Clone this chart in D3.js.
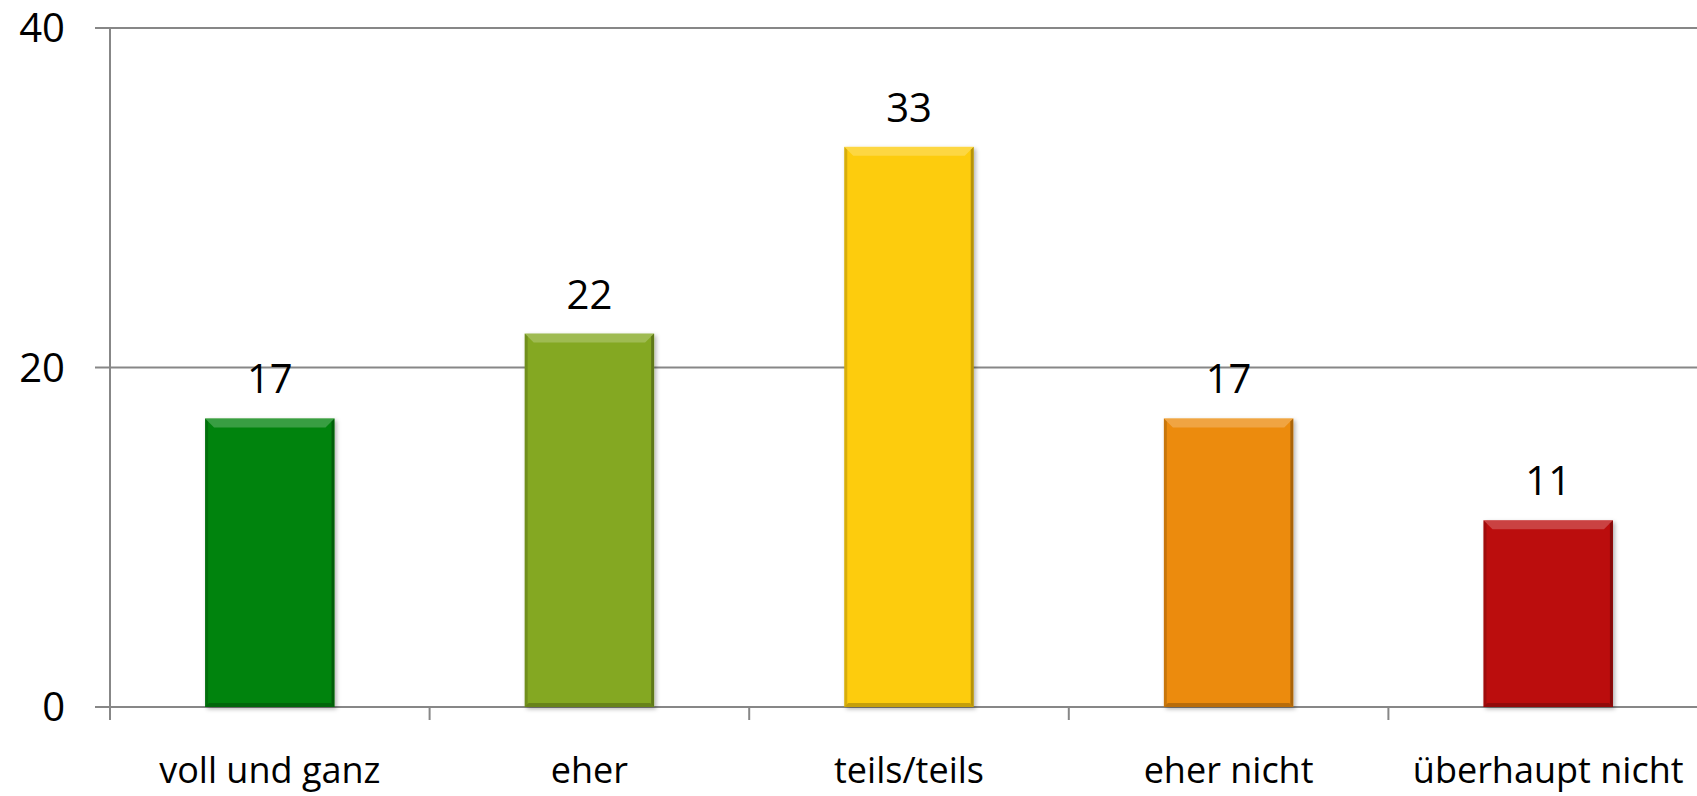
<!DOCTYPE html>
<html>
<head>
<meta charset="utf-8">
<script src="https://cdn.jsdelivr.net/npm/d3@7"></script>
<style>
  body { margin: 0; background: #fff; }
  svg { display: block; font-family: "Open Sans", sans-serif; }
</style>
</head>
<body>
<script>
// data
var categories = ["voll und ganz", "eher", "teils/teils", "eher nicht", "überhaupt nicht"];
var values = [17, 22, 33, 17, 11];
var barColors = ["#06830a", "#84a822", "#fdcc08", "#ec8b07", "#bb0707"];
var yTicks = [0, 20, 40];

var W = 1697, H = 796;
var margin = { top: 28, right: -11, bottom: 89, left: 110 };
var w = W - margin.left - margin.right;
var h = H - margin.top - margin.bottom;

var svg = d3.select("body")
    .append("svg")
    .attr("width", W)
    .attr("height", H);

var defs = svg.append("defs");
var f = defs.append("filter").attr("id", "shadow")
    .attr("x", "-10%").attr("y", "-10%").attr("width", "130%").attr("height", "130%");
f.append("feDropShadow").attr("dx", 2).attr("dy", 2).attr("stdDeviation", 2)
    .attr("flood-color", "#000").attr("flood-opacity", 0.3);

var g = svg.append("g")
    .attr("transform", "translate(" + margin.left + "," + margin.top + ")");

var x = d3.scaleBand().domain(categories).range([0, w]).padding(0);
var y = d3.scaleLinear().domain([0, 40]).range([h, 0]);

// gridlines + y labels
g.selectAll("line.grid")
    .data(yTicks)
    .enter()
    .append("line")
    .attr("class", "grid")
    .attr("x1", -15)
    .attr("x2", w)
    .attr("y1", function (d) { return y(d) })
    .attr("y2", function (d) { return y(d) })
    .attr("stroke", "#878787")
    .attr("stroke-width", 2);

g.selectAll("text.ylab")
    .data(yTicks)
    .enter()
    .append("text")
    .attr("class", "ylab")
    .attr("x", -45)
    .attr("y", function (d) { return y(d) })
    .attr("dy", "0.36em")
    .attr("text-anchor", "end")
    .attr("font-size", "40px")
    .attr("fill", "#000")
    .text(function (d) { return d });

// y axis line
g.append("line")
    .attr("x1", 0).attr("x2", 0)
    .attr("y1", 0).attr("y2", h + 13)
    .attr("stroke", "#878787")
    .attr("stroke-width", 2);

// x ticks at category boundaries
g.selectAll("line.xtick")
    .data(categories.slice(1))
    .enter()
    .append("line")
    .attr("class", "xtick")
    .attr("x1", function (d) { return x(d) })
    .attr("x2", function (d) { return x(d) })
    .attr("y1", h)
    .attr("y2", h + 13)
    .attr("stroke", "#878787")
    .attr("stroke-width", 2);

// bars with bevel
var bw = x.bandwidth() * 0.405;
var bev = 9;

var bars = g.selectAll("g.bar")
    .data(values)
    .enter()
    .append("g")
    .attr("class", "bar");

bars.append("rect")
    .attr("x", function (d, i) { return x(categories[i]) + (x.bandwidth() - bw) / 2 })
    .attr("y", function (d) { return y(d) })
    .attr("width", bw)
    .attr("height", function (d) { return h - y(d) })
    .attr("fill", function (d, i) { return barColors[i] })
    .attr("filter", "url(#shadow)");

function bevelPath(d, i, side) {
    var x0 = x(categories[i]) + (x.bandwidth() - bw) / 2, x1 = x0 + bw;
    var y0 = y(d), y1 = h;
    if (side == "top") return [[x0, y0], [x1, y0], [x1 - bev, y0 + bev], [x0 + bev, y0 + bev]];
    if (side == "left") return [[x0, y0], [x0 + 3, y0 + 3], [x0 + 3, y1 - 3], [x0, y1]];
    if (side == "right") return [[x1, y0], [x1 - 3, y0 + 3], [x1 - 3, y1 - 3], [x1, y1]];
    return [[x0, y1], [x1, y1], [x1 - 4, y1 - 4], [x0 + 4, y1 - 4]];
}

var sides = [
    { s: "top", c: "#fff", o: 0.22 },
    { s: "left", c: "#000", o: 0.15 },
    { s: "right", c: "#000", o: 0.28 },
    { s: "bottom", c: "#000", o: 0.22 }
];
sides.forEach(function (sd) {
    bars.append("polygon")
        .attr("points", function (d, i) { return bevelPath(d, i, sd.s).join(" ") })
        .attr("fill", sd.c)
        .attr("fill-opacity", sd.o);
});

// value labels
g.selectAll("text.val")
    .data(values)
    .enter()
    .append("text")
    .attr("class", "val")
    .attr("x", function (d, i) { return x(categories[i]) + x.bandwidth() / 2 })
    .attr("y", function (d) { return y(d) - 25 })
    .attr("text-anchor", "middle")
    .attr("font-size", "40px")
    .attr("fill", "#000")
    .text(function (d) { return d });

// category labels
g.selectAll("text.cat")
    .data(categories)
    .enter()
    .append("text")
    .attr("class", "cat")
    .attr("x", function (d) { return x(d) + x.bandwidth() / 2 })
    .attr("y", h + 76)
    .attr("text-anchor", "middle")
    .attr("font-size", "36px")
    .attr("fill", "#000")
    .text(function (d) { return d });
</script>
</body>
</html>
